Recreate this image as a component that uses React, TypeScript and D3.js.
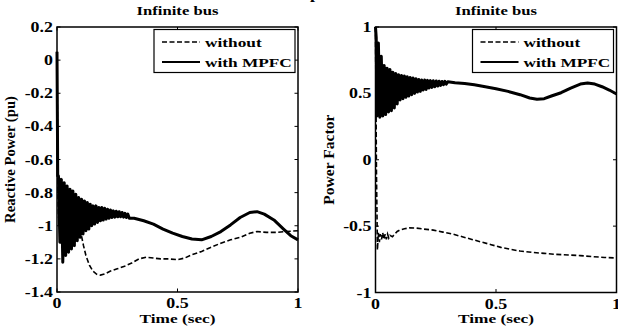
import { useRef, useEffect } from 'react'
import * as d3 from 'd3'

type Pt = [number, number]

const xTicks = [0, 0.5, 1]
const qTicks = [0.2, 0, -0.2, -0.4, -0.6, -0.8, -1, -1.2, -1.4]
const pfTicks = [1, 0.5, 0, -0.5, -1]
const legendLabels = ['without', 'with MPFC']
const panelTitle = 'Infinite bus'
const xTitle = 'Time (sec)'

// reactive power, without MPFC (hidden under the solid one before ~0.09 s)
const qWithout: Pt[] = [
  [0, 0.05], [0.003, -0.7], [0.006, -0.95], [0.02, -0.9], [0.04, -0.95], [0.06, -0.92],
  [0.08, -0.95], [0.09, -0.98], [0.1, -1.05], [0.11, -1.12], [0.12, -1.18], [0.135, -1.24],
  [0.15, -1.275], [0.165, -1.293], [0.18, -1.298], [0.2, -1.29], [0.22, -1.275], [0.25, -1.26],
  [0.28, -1.245], [0.31, -1.225], [0.34, -1.2], [0.37, -1.19], [0.4, -1.195], [0.43, -1.2],
  [0.46, -1.2], [0.5, -1.205], [0.53, -1.195], [0.56, -1.175], [0.6, -1.155], [0.64, -1.13],
  [0.68, -1.105], [0.72, -1.085], [0.76, -1.07], [0.8, -1.045], [0.83, -1.035], [0.87, -1.04],
  [0.91, -1.04], [0.95, -1.035], [1.0, -1.03],
]

// reactive power, with MPFC
const qMpfc: Pt[] = [
  [0, 0.05], [0.003, -0.7],
  [0.006, -0.7], [0.012, -1.1], [0.018, -0.72], [0.024, -1.22], [0.03, -0.74], [0.036, -1.18],
  [0.042, -0.76], [0.048, -1.16], [0.054, -0.78], [0.06, -1.14], [0.066, -0.79], [0.072, -1.12],
  [0.078, -0.81], [0.084, -1.09], [0.09, -0.83], [0.096, -1.07], [0.102, -0.84], [0.108, -1.05],
  [0.114, -0.85], [0.12, -1.03], [0.126, -0.86], [0.132, -1.02], [0.138, -0.87], [0.144, -1.0],
  [0.15, -0.88], [0.156, -0.99], [0.162, -0.88], [0.168, -0.98], [0.174, -0.89], [0.18, -0.97],
  [0.186, -0.89], [0.192, -0.965], [0.198, -0.895], [0.204, -0.96], [0.21, -0.9], [0.216, -0.955],
  [0.222, -0.905], [0.228, -0.95], [0.234, -0.91], [0.24, -0.948], [0.246, -0.912], [0.252, -0.946],
  [0.258, -0.915], [0.264, -0.946], [0.27, -0.92], [0.276, -0.948], [0.282, -0.925], [0.288, -0.95],
  [0.294, -0.93], [0.3, -0.955],
  [0.32, -0.955], [0.36, -0.97], [0.4, -0.99], [0.44, -1.02], [0.48, -1.045], [0.52, -1.065],
  [0.56, -1.08], [0.6, -1.085], [0.64, -1.065], [0.68, -1.035], [0.72, -0.995], [0.76, -0.95],
  [0.8, -0.92], [0.83, -0.915], [0.86, -0.93], [0.9, -0.965], [0.94, -1.02], [0.97, -1.06],
  [1.0, -1.085],
]

// power factor, without MPFC
const pfWithout: Pt[] = [
  [0, 1.0], [0.004, -0.1], [0.008, -0.68], [0.012, -0.55], [0.016, -0.62], [0.02, -0.56],
  [0.025, -0.6], [0.03, -0.55], [0.035, -0.6], [0.04, -0.56], [0.045, -0.6], [0.05, -0.56],
  [0.055, -0.59], [0.06, -0.57], [0.07, -0.58], [0.08, -0.56], [0.09, -0.54], [0.1, -0.53],
  [0.12, -0.52], [0.14, -0.513], [0.17, -0.515], [0.2, -0.522], [0.24, -0.53], [0.28, -0.545],
  [0.32, -0.56], [0.36, -0.58], [0.4, -0.6], [0.44, -0.62], [0.48, -0.64], [0.52, -0.66],
  [0.56, -0.675], [0.6, -0.688], [0.65, -0.698], [0.7, -0.705], [0.75, -0.713], [0.8, -0.717],
  [0.85, -0.722], [0.9, -0.73], [0.95, -0.736], [1.0, -0.74],
]

// power factor, with MPFC
const pfMpfc: Pt[] = [
  [0, 1.0], [0.003, 0.92],
  [0.006, 0.33], [0.012, 0.88], [0.018, 0.32], [0.024, 0.78], [0.03, 0.33], [0.036, 0.71],
  [0.042, 0.34], [0.048, 0.69], [0.054, 0.36], [0.06, 0.68], [0.066, 0.37], [0.072, 0.66],
  [0.078, 0.39], [0.084, 0.65], [0.09, 0.42], [0.096, 0.64], [0.102, 0.45], [0.108, 0.635],
  [0.114, 0.46], [0.12, 0.63], [0.126, 0.47], [0.132, 0.625], [0.138, 0.48], [0.144, 0.62],
  [0.15, 0.49], [0.156, 0.615], [0.162, 0.5], [0.168, 0.61], [0.174, 0.51], [0.18, 0.605],
  [0.186, 0.515], [0.192, 0.6], [0.198, 0.525], [0.204, 0.6], [0.21, 0.53], [0.216, 0.598],
  [0.222, 0.54], [0.228, 0.596], [0.234, 0.545], [0.24, 0.595], [0.246, 0.55], [0.252, 0.593],
  [0.258, 0.555], [0.264, 0.592], [0.27, 0.56], [0.276, 0.59], [0.282, 0.565], [0.288, 0.59],
  [0.294, 0.57], [0.3, 0.588],
  [0.33, 0.58], [0.37, 0.575], [0.41, 0.565], [0.45, 0.552], [0.5, 0.535], [0.55, 0.515],
  [0.6, 0.49], [0.64, 0.465], [0.67, 0.455], [0.7, 0.46], [0.73, 0.48], [0.77, 0.505],
  [0.81, 0.54], [0.85, 0.57], [0.88, 0.578], [0.91, 0.57], [0.94, 0.55], [0.97, 0.525],
  [1.0, 0.495],
]

const FONT = '"Liberation Serif", "Times New Roman", serif'
const SX = 1.28 // the source figure is stretched horizontally

type Sel = d3.Selection<SVGGElement, unknown, null, undefined>

function label(g: Sel, x: number, y: number, s: string, size: number, anchor: string) {
  g.append('text')
    .attr('transform', `translate(${x},${y}) scale(${SX},1)`)
    .attr('text-anchor', anchor)
    .attr('font-size', size)
    .attr('font-weight', 'bold')
    .attr('font-family', FONT)
    .attr('fill', '#000')
    .text(s)
}

function drawPanel(root: Sel, o: {
  left: number, right: number, top: number, bottom: number,
  yDomain: [number, number], yTicks: number[], yTitle: string, yTitleX: number, yTitleScale: number,
  without: Pt[], mpfc: Pt[]
}) {
  const x = d3.scaleLinear().domain([0, 1]).range([o.left, o.right])
  const y = d3.scaleLinear().domain(o.yDomain).range([o.bottom, o.top])
  const g = root.append('g')
  const tick = 3.5

  const line = d3.line<Pt>().x(d => x(d[0])).y(d => y(d[1]))

  g.append('path').datum(o.without).attr('d', line)
    .attr('fill', 'none').attr('stroke', '#000').attr('stroke-width', 1.6)
    .attr('stroke-dasharray', '5,2.5')
  g.append('path').datum(o.mpfc).attr('d', line)
    .attr('fill', 'none').attr('stroke', '#000').attr('stroke-width', 3)
    .attr('stroke-linejoin', 'round')

  // box
  g.append('rect').attr('x', o.left).attr('y', o.top)
    .attr('width', o.right - o.left).attr('height', o.bottom - o.top)
    .attr('fill', 'none').attr('stroke', '#000').attr('stroke-width', 1.5)

  // inward ticks on all sides
  xTicks.forEach(t => {
    g.append('line').attr('x1', x(t)).attr('x2', x(t)).attr('y1', o.bottom).attr('y2', o.bottom - tick)
      .attr('stroke', '#000').attr('stroke-width', 1)
    g.append('line').attr('x1', x(t)).attr('x2', x(t)).attr('y1', o.top).attr('y2', o.top + tick)
      .attr('stroke', '#000').attr('stroke-width', 1)
    label(g, x(t), o.bottom + 16, String(t), 14, 'middle')
  })
  o.yTicks.forEach(t => {
    g.append('line').attr('x1', o.left).attr('x2', o.left + tick).attr('y1', y(t)).attr('y2', y(t))
      .attr('stroke', '#000').attr('stroke-width', 1)
    g.append('line').attr('x1', o.right).attr('x2', o.right - tick).attr('y1', y(t)).attr('y2', y(t))
      .attr('stroke', '#000').attr('stroke-width', 1)
    label(g, o.left - 4, y(t) + 5, String(t), 14, 'end')
  })

  const cx = (o.left + o.right) / 2
  label(g, cx, 15, panelTitle, 13, 'middle')
  label(g, cx, 323, xTitle, 13.5, 'middle')

  g.append('text')
    .attr('transform', `translate(${o.yTitleX},${(o.top + o.bottom) / 2}) rotate(-90) scale(${o.yTitleScale},1.2)`)
    .attr('text-anchor', 'middle')
    .attr('font-size', 13)
    .attr('font-weight', 'bold')
    .attr('font-family', FONT)
    .text(o.yTitle)

  // legend
  const bw = 141, bh = 43
  const bx = o.right - 3 - bw, by = o.top + 2.5
  const leg = g.append('g')
  leg.append('rect').attr('x', bx).attr('y', by).attr('width', bw).attr('height', bh)
    .attr('fill', '#fff').attr('stroke', '#000').attr('stroke-width', 1.2)
  legendLabels.forEach((s, i) => {
    const ry = by + 12.5 + i * 20
    leg.append('line').attr('x1', bx + 8).attr('x2', bx + 46).attr('y1', ry).attr('y2', ry)
      .attr('stroke', '#000').attr('stroke-width', i === 0 ? 1.6 : 1.8)
      .attr('stroke-dasharray', i === 0 ? '5,2.5' : null)
    label(leg as Sel, bx + 51, ry + 4.5, s, 13.5, 'start')
  })
}

export default function App() {
  const svgRef = useRef<SVGSVGElement | null>(null)

  useEffect(() => {
    if (!svgRef.current) return
    const svg = d3.select(svgRef.current)
    svg.selectAll('*').remove()
    const root = svg.append('g') as unknown as Sel

    drawPanel(root, {
      left: 57, right: 298, top: 27, bottom: 292,
      yDomain: [-1.4, 0.2], yTicks: qTicks, yTitle: 'Reactive Power (pu)', yTitleX: 15, yTitleScale: 1.13,
      without: qWithout, mpfc: qMpfc,
    })
    drawPanel(root, {
      left: 375.5, right: 616.5, top: 27, bottom: 292.5,
      yDomain: [-1, 1], yTicks: pfTicks, yTitle: 'Power Factor', yTitleX: 334, yTitleScale: 1.2,
      without: pfWithout, mpfc: pfMpfc,
    })

    // cut-off caption glyph at the very top
    label(root, 315, -1, 'p', 14, 'middle')
  }, [])

  return (
    <svg ref={svgRef} width={618} height={332}
      style={{ position: 'absolute', left: 0, top: 0, background: '#fff', display: 'block' }} />
  )
}
